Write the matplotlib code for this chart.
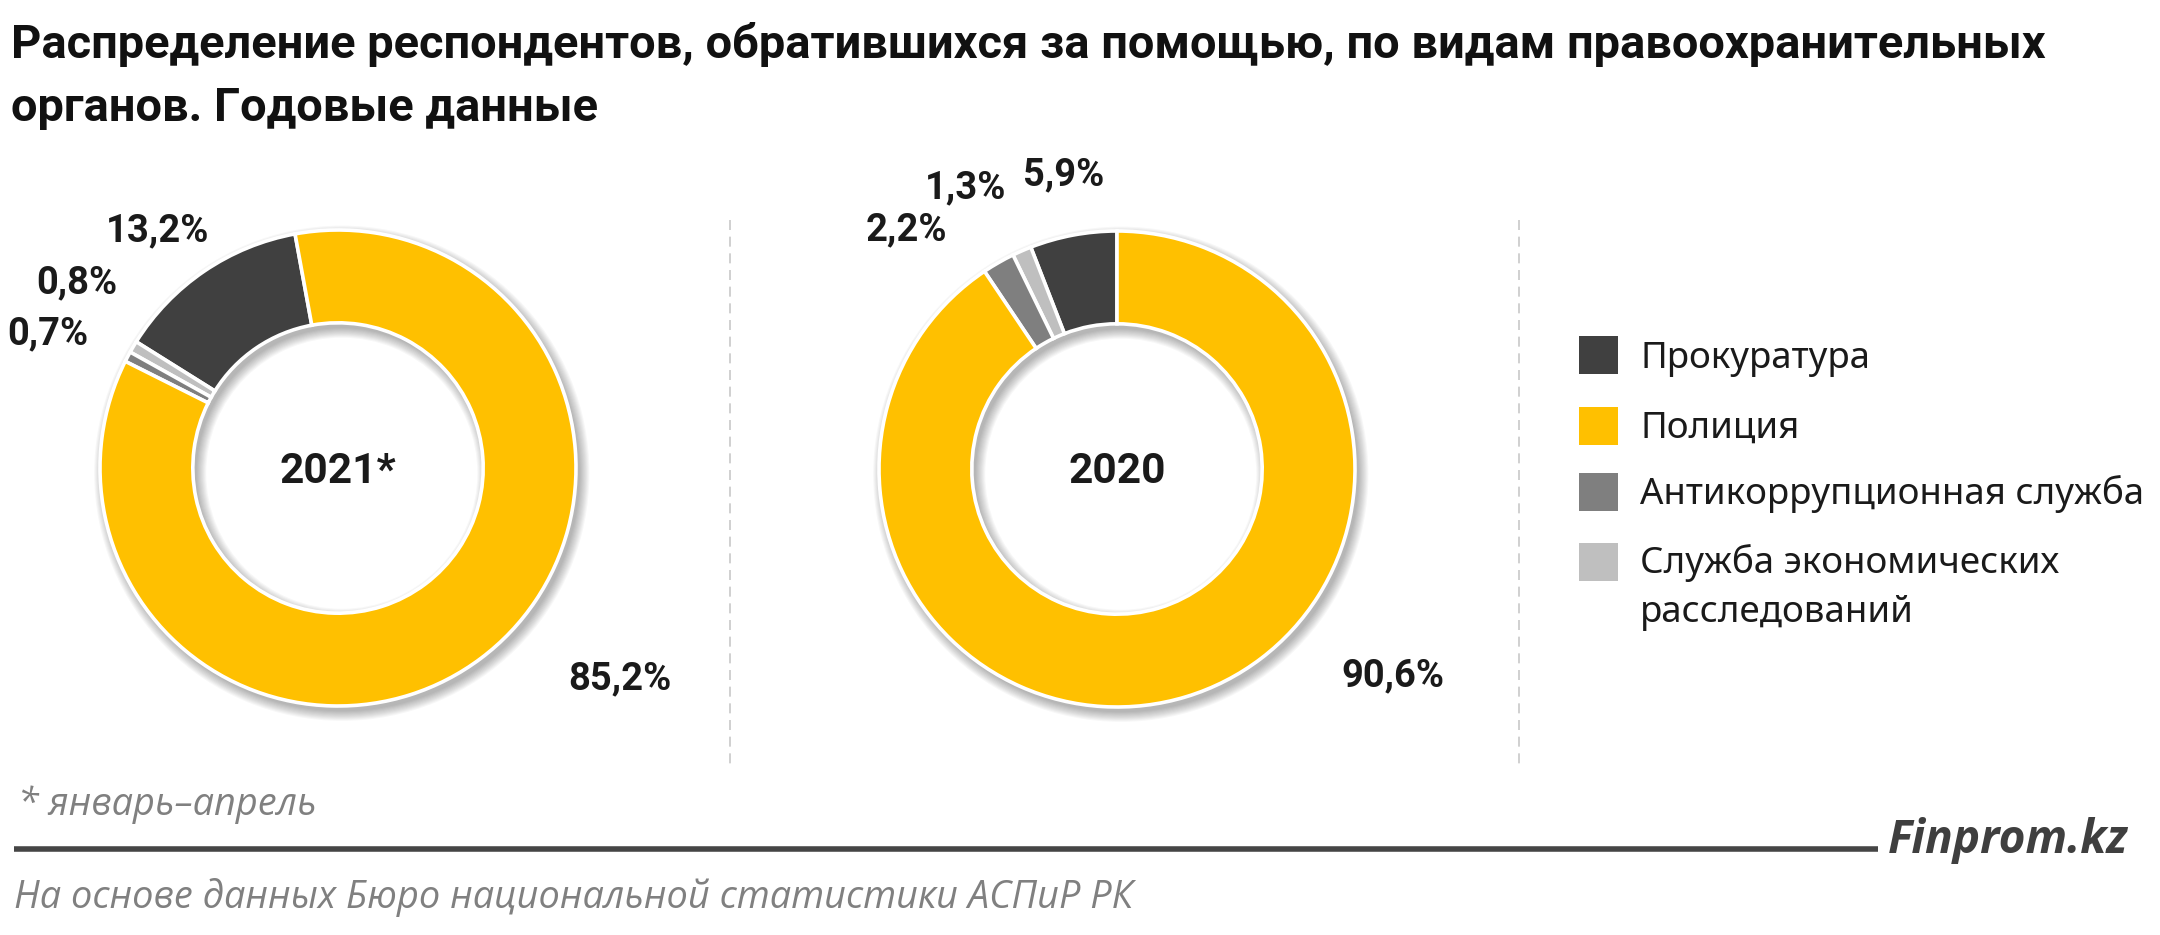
import matplotlib
matplotlib.use("Agg")
import matplotlib.pyplot as plt
from matplotlib.patches import Wedge, Rectangle
from matplotlib.lines import Line2D

# ---------------- data ----------------
categories = ["Прокуратура", "Полиция", "Антикоррупционная служба",
              "Служба экономических\nрасследований"]
share_2021 = [13.2, 85.2, 0.7, 0.8]
share_2020 = [5.9, 90.6, 2.2, 1.3]
years = ["2021*", "2020"]
colors = ["#404040", "#FFC000", "#7F7F7F", "#BFBFBF"]

title = ("Распределение респондентов, обратившихся за помощью, по видам правоохранительных\n"
         "органов. Годовые данные")
footnote = "* январь–апрель"
source = "На основе данных Бюро национальной статистики АСПиР РК"
brand = "Finprom.kz"

# ---------------- layout ----------------
W, H = 2160, 935
fig = plt.figure(figsize=(W / 100, H / 100), dpi=100)
fig.patch.set_facecolor("white")
renderer = fig.canvas.get_renderer()


def fx(x):
    return x / W


def fy(y):
    return 1 - y / H


def fit_size(s, target_w, **kw):
    t = fig.text(0, 0, s, fontsize=20, **kw)
    w = t.get_window_extent(renderer).width
    t.remove()
    return 20 * target_w / w


TXT = "#1a1a1a"

# title
title_lines = title.split("\n")
ts = fit_size(title_lines[0], 2030, family="Roboto", weight="bold")
for line, base in zip(title_lines, [58, 121]):
    fig.text(fx(11), fy(base), line, fontsize=ts, family="Roboto", weight="bold",
             color="#111111", va="baseline", ha="left")

# donuts
order = [0, 3, 2, 1]  # counter-clockwise drawing order
centers = [(338, 468), (1117, 469)]
starts = [100.4, 90.0]
R_PX = 238.0
BOX = 262.0
HOLE = 0.61
pct_pos = [
    [(158, 241), (620, 689), (48, 344), (77, 293)],
    [(1064, 185), (1393, 686), (906, 240), (966, 198)],
]
pct_size = fit_size("13,2%", 103, family="Roboto", weight="bold")
yr_size = fit_size("2020", 97, family="Roboto", weight="bold")

for (cx, cy), vals, st, yr, poss in zip(centers, [share_2021, share_2020], starts, years, pct_pos):
    ax = fig.add_axes([fx(cx - BOX), fy(cy + BOX), 2 * BOX / W, 2 * BOX / H])
    lim = BOX / R_PX
    # soft drop shadow
    off = (0.016, -0.022)
    for k in range(10):
        s = 0.0045 * k
        ax.add_patch(Wedge(off, 1 + s, 0, 360, width=(1 - HOLE) + 2 * s,
                           facecolor="black", alpha=0.03, lw=0))
    ax.pie([vals[i] for i in order], colors=[colors[i] for i in order],
           startangle=st, counterclock=True, radius=1,
           wedgeprops=dict(width=1 - HOLE, edgecolor="white", linewidth=2.6))
    ax.set_xlim(-lim, lim)
    ax.set_ylim(-lim, lim)
    ax.set_aspect("equal")
    ax.axis("off")
    fig.text(fx(cx), fy(483), yr, fontsize=yr_size, family="Roboto", weight="bold",
             color=TXT, ha="center", va="baseline")
    for v, (px, py) in zip(vals, poss):
        lab = f"{v:.1f}".replace(".", ",") + "%"
        fig.text(fx(px), fy(py), lab, fontsize=pct_size, family="Roboto", weight="bold",
                 color=TXT, ha="center", va="baseline")

# dashed separators
for x in [730, 1519]:
    fig.add_artist(Line2D([fx(x), fx(x)], [fy(220), fy(765)], color="#C8C8C8",
                          lw=1.2, dashes=(6, 4)))

# legend
leg_size = fit_size("Антикоррупционная служба", 505, family="Noto Sans")
leg_base = [368, 438, 504, 573]
sq_cy = [355, 426, 492, 562]
for cat, col, b, sc in zip(categories, colors, leg_base, sq_cy):
    fig.add_artist(Rectangle((fx(1579), fy(sc + 19)), 39 / W, 38 / H, facecolor=col,
                             edgecolor="none", transform=fig.transFigure))
    for j, line in enumerate(cat.split("\n")):
        fig.text(fx(1640), fy(b + 49 * j), line, fontsize=leg_size, family="Noto Sans",
                 color=TXT, ha="left", va="baseline")

# footer
fn_size = fit_size(footnote, 299, family="Open Sans", style="italic")
fig.text(fx(18), fy(815), footnote, fontsize=fn_size, family="Open Sans", style="italic",
         color="#808080", ha="left", va="baseline")
fig.add_artist(Line2D([fx(14), fx(1878)], [fy(849), fy(849)], color="#454545", lw=4.0,
                      solid_capstyle="butt"))
br_size = fit_size(brand, 240, family="Open Sans", style="italic", weight="bold")
fig.text(fx(1888), fy(853), brand, fontsize=br_size, family="Open Sans", style="italic",
         weight="bold", color="#3f3f3f", ha="left", va="baseline")
src_size = fit_size(source, 1120, family="Open Sans", style="italic")
fig.text(fx(14), fy(908), source, fontsize=src_size, family="Open Sans", style="italic",
         color="#808080", ha="left", va="baseline")

fig.savefig("out.png", dpi=100, facecolor="white")
